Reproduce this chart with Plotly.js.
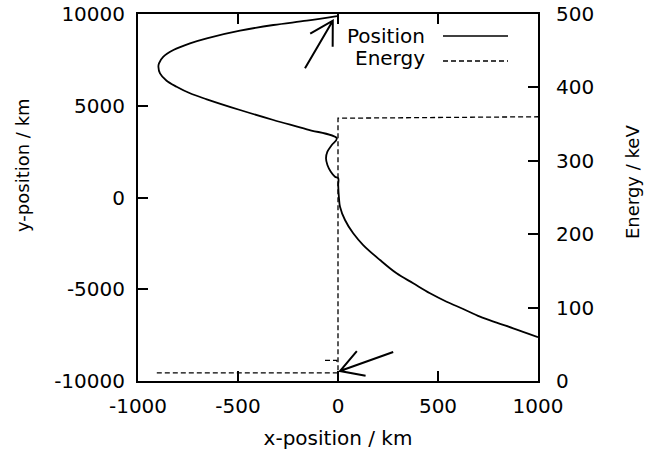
<!DOCTYPE html>
<html>
<head>
<meta charset="utf-8">
<script src="https://cdn.plot.ly/plotly-3.0.1.min.js"></script>
<style>
  html, body { margin: 0; padding: 0; background: #fff; }
  #chart { width: 647px; height: 457px; }
</style>
</head>
<body>
<div id="chart"></div>
<script>
// Particle trajectory in the x-y plane (km)
const posX = [-5, -156, -323, -490, -656, -740, -823, -873, -895, -898, -890, -857, -807, -740, -656, -490, -323, -156, -6,
              -31, -53, -60, -53, -36, -15, 1, 1, 5, 10, 35, 76, 126, 210, 293, 376, 460, 543, 626, 710, 793, 876, 1000];
const posY = [9880, 9635, 9400, 9090, 8676, 8403, 8039, 7676, 7313, 7129, 6766, 6364, 6037, 5679, 5352, 4769, 4224, 3717, 3226,
              2861, 2496, 2136, 1771, 1406, 1134, 1046, 681, -44, -501, -1226, -1951, -2589, -3406, -4131, -4676, -5221,
              -5679, -6077, -6496, -6823, -7128, -7610];

// Kinetic energy along the track (keV), against x-position
const energyX = [-906, 0, 0, 500, 1000, null, -65, -6, -6];
const energyE = [11, 11, 358, 359, 360, null, 28, 28, 22];

// Axis ticks
const xTicks = [-1000, -500, 0, 500, 1000];
const yTicks = [-10000, -5000, 0, 5000, 10000];
const eTicks = [0, 100, 200, 300, 400, 500];

// Marker arrows (tail -> tip), in km
const arrowTailX = [-165, 276];
const arrowTailY = [7041, -8420];
const arrowTipX = [-26, 10];
const arrowTipY = [9636, -9456];

const FONT = 'DejaVu Sans, sans-serif';
const W = 647, H = 457;
const M = { l: 138, r: 109, t: 14, b: 76 };
const plotW = W - M.l - M.r, plotH = H - M.t - M.b;
const sx = plotW / 2000, sy = plotH / 20000;

// Open "V" arrowhead drawn as a path in data coordinates
function arrowPath(x0, y0, x1, y1, len, angDeg) {
  let dx = (x0 - x1) * sx, dy = -(y0 - y1) * sy;
  const n = Math.hypot(dx, dy); dx /= n; dy /= n;
  const a = angDeg * Math.PI / 180;
  const wing = s => {
    const c = Math.cos(s * a), si = Math.sin(s * a);
    const px = (dx * c - dy * si) * len, py = (dx * si + dy * c) * len;
    return [x1 + px / sx, y1 - py / sy];
  };
  const w1 = wing(1), w2 = wing(-1);
  return `M ${x0} ${y0} L ${x1} ${y1} M ${w1[0]} ${w1[1]} L ${x1} ${y1} L ${w2[0]} ${w2[1]}`;
}

const shapes = arrowTailX.map((_, i) => ({
  type: 'path', xref: 'x', yref: 'y',
  path: arrowPath(arrowTailX[i], arrowTailY[i], arrowTipX[i], arrowTipY[i], 26, 30),
  line: { color: '#000', width: 2 }
}));

// Key: label on the left, line sample on the right
const keyX = (427 - M.l) / plotW;
const sampleX0 = (443 - M.l) / plotW, sampleX1 = (508 - M.l) / plotW;
const keyY = [(H - M.b - 36) / plotH, (H - M.b - 61) / plotH];
const keyText = ['Position', 'Energy'];
const keyDash = ['solid', '5px,3px'];
keyText.forEach((t, i) => {
  shapes.push({
    type: 'line', xref: 'paper', yref: 'paper',
    x0: sampleX0, x1: sampleX1, y0: keyY[i], y1: keyY[i],
    line: { color: '#000', width: 1.5, dash: keyDash[i] }
  });
});

const annotations = keyText.map((t, i) => ({
  xref: 'paper', yref: 'paper', x: keyX, y: keyY[i] + (i === 0 ? 0 : 0.008),
  xanchor: 'right', yanchor: 'middle', showarrow: false, text: t,
  font: { family: FONT, size: 20, color: '#000' }
}));
annotations.push({
  xref: 'paper', yref: 'paper', x: (22 - M.l) / plotW, y: (H - M.b - 165) / plotH,
  xanchor: 'center', yanchor: 'middle', textangle: -90, showarrow: false,
  text: 'y-position / km', font: { family: FONT, size: 18, color: '#000' }
});
annotations.push({
  xref: 'paper', yref: 'paper', x: (632 - M.l) / plotW, y: (H - M.b - 182) / plotH,
  xanchor: 'center', yanchor: 'middle', textangle: -90, showarrow: false,
  text: 'Energy / keV', font: { family: FONT, size: 18, color: '#000' }
});

const traces = [
  {
    x: posX, y: posY, type: 'scatter', mode: 'lines', name: 'Position',
    line: { color: '#000', width: 1.8, shape: 'spline', smoothing: 1 },
    xaxis: 'x', yaxis: 'y', hoverinfo: 'skip'
  },
  {
    x: energyX, y: energyE, type: 'scatter', mode: 'lines', name: 'Energy',
    line: { color: '#000', width: 1.3, dash: '5px,3px' },
    xaxis: 'x', yaxis: 'y2', hoverinfo: 'skip'
  }
];

const tickFont = { family: FONT, size: 20, color: '#000' };
const layout = {
  width: W, height: H,
  margin: M,
  paper_bgcolor: '#fff', plot_bgcolor: '#fff',
  showlegend: false,
  xaxis: {
    range: [-1000, 1000], tickvals: xTicks, ticktext: xTicks.map(String),
    ticks: 'inside', ticklen: 10, tickwidth: 2, tickcolor: '#000',
    showline: true, linecolor: '#000', linewidth: 2, mirror: 'ticks',
    showgrid: false, zeroline: false, tickfont: tickFont, ticklabelstandoff: 6,
    title: { text: 'x-position / km', font: { family: FONT, size: 20, color: '#000' }, standoff: 14 }
  },
  yaxis: {
    range: [-10000, 10000], tickvals: yTicks, ticktext: yTicks.map(String),
    ticks: 'inside', ticklen: 10, tickwidth: 2, tickcolor: '#000',
    showline: true, linecolor: '#000', linewidth: 2, mirror: true,
    showgrid: false, zeroline: false, tickfont: tickFont, ticklabelstandoff: 7
  },
  yaxis2: {
    range: [0, 500], tickvals: eTicks, ticktext: eTicks.map(String),
    overlaying: 'y', side: 'right',
    ticks: 'inside', ticklen: 10, tickwidth: 2, tickcolor: '#000',
    showline: true, linecolor: '#000', linewidth: 2,
    showgrid: false, zeroline: false, tickfont: tickFont, ticklabelstandoff: 12
  },
  shapes: shapes,
  annotations: annotations
};

Plotly.newPlot('chart', traces, layout, { staticPlot: true, displayModeBar: false });
</script>
</body>
</html>
